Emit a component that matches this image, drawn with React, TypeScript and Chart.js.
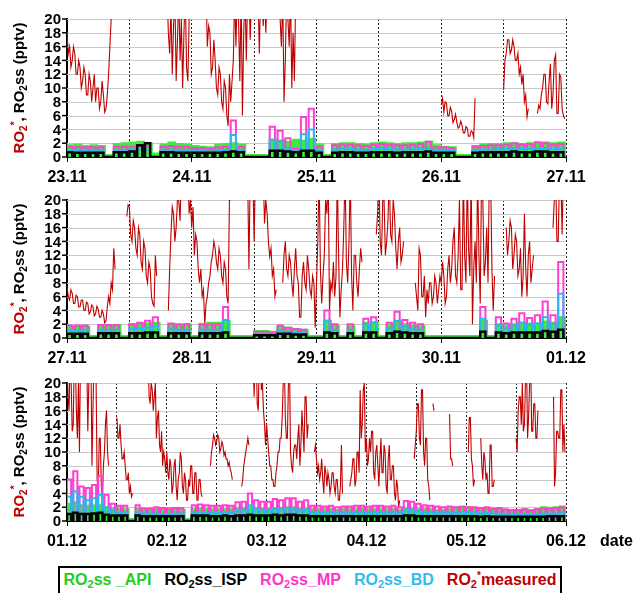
import React, { useEffect, useRef } from 'react';
import { Chart, registerables } from 'chart.js';
Chart.register(...registerables);

const N = null;

// ---------- tick labels ----------
const days1 = ['23.11', '24.11', '25.11', '26.11', '27.11'];
const days2 = ['27.11', '28.11', '29.11', '30.11', '01.12'];
const days3 = ['01.12', '02.12', '03.12', '04.12', '05.12', '06.12'];
const yTickValues = [0, 2, 4, 6, 8, 10, 12, 14, 16, 18, 20];

// ---------- RO2* measured, 15-min values per day (pptv; >20 runs off the axis) ----------
const m2311 = [18, 15, 16, 13, 14, 16, 15, 12, 12, 14, 13, 10, 11, 13, 12, 9, 9, 12, 11, 8,
  10, 12, 8, 10, 10, 7, 8, 11, 9, 6.5, 7, 9, 12, 16, 20, 24,
  24, N, N, N, N, N, N, N, N, N, N, N, N, N, N, N, N, N, N, N, N, N, N, N, N, N, N, N, N, N,
  N, N, N, N, N, N, N, N, N, N, 24,
  24, 18, 15, 22, 12, 19, 24, 11, 17, 24, 14, 20, 10, 18, 24, 13, 11, 20, 24];
const m2411 = [24, 24, 24, 24, 24, 24, 24, 24, 24, 24,
  20, 24, 16, 19, 18, 12, 13, 17, 14, 10, 9, 13, 12, 8, 7, 11, 10, 6, 4.5, 12,
  8, 11, 14, 24, 16, 24, 20, 11, 24, 6, 18, 24, 14, 24, 24, 17, 24, 24, 24, 24,
  22, 24, 15, 24, 24, 19, 24, 18, 24,
  24, 24, 24, 24, 24, 24, 24, 24, 24,
  20, 16, 24, 8, 14, 24, 20, 16, 24, 10, 18, 11, 24, 24, 24, 24,
  N, N, N, N, N, N, N, N, N, N, N, N];
const m2511: (number | null)[] = [];
const m2611 = [7.5, 8.5, 6.5, 8, 7.8, 6, 6.0, 7.2, 6.6, 5, 5.4, 6.2, 5.0, 4.2, 4.4, 5.2, 4.6, 3.5, 3.5, 4.4,
  4.2, 3, 3.0, 3.8, 3.6, 2.8, 8.5, N,
  N, N, N, N, N, N, N, N, N, N, N, N, N, N, N, N, N, N, N, N,
  9.7, 14, 15, 17, 17, 15, 15.5, 17, 16, 14, 14, 15, 12, 13, 10.5, 12, 8, 9, 5.8, 7,
  N, N, N, N, N, N,
  6.3, 7.5, 7, 9, 10, 12, 12, 8, 7.7, 11, 13.5, 7, 9, 14, 14.8, 6.3, 6.3, 12, 11.6, 7, 6, 5.5];
const m2711 = [7.5, 6, 5.5, 7, 6.5, 5, 5, 6.2, 6, 4.5, 4.5, 5.5, 5.5, 4, 4, 5.2, 5, 3.5, 3.8, 4.8,
  4.5, 3.2, 3.5, 4.6, 4.2, 3, 3, 4, 3.5, 2.2, 2.5, 4.5, 6, 5, 8, 7, 13, 10,
  N, N, N, N, N, N, N, N,
  17.6, 19.3, 19, 15, 14, 17, 16, 13, 12, 16, 15, 11, 10, 14, 13, 9, 8, 11, 10, 6, 5, 4.6, 12, 9,
  N, N, N, N, N, N, N, N,
  4, 10, 15, 19, 18, 14, 16, 20, 20, 17, 24, 24, 24, 24, 20, 24, 18, 20];
const m2811 = [16, 19, 12, 15, 14, 10, 8, 10, 6, 7, 2, 5, 6, 8, 9, 11, 12, 14, 13, 11,
  10, 13, 12, 9, 8, 11, 10, 6, 5, 20, 20, N,
  N, N, N, N, N, N, N, N, N, N,
  20, 24, 10, 24, 24, 24, 14, 24, 24, 24, 24, 24, 24, 24, 16.6, 20, 18, 14, 11.8, 13, 9, 10, 6, 7,
  N, N, N, N,
  8, 12, 14, 10, 9, 12, 11, 8, 6, 10, 13, 9, 8, 3, 3, 9, 11, 8, 7, 12, 10, 7, 6, 9, 8, 1.5];
const m2911 = [8, 14, 24, 10, 5, 9, 12, 20, 18, 24, 4, 8, 7, 11, 6, 9, 24, 12, 3, 7,
  10, 16, 24, 11, 8, 14, 24, 9, 4, 12, 12, 8, 6, 10, 13, 11,
  N, N, N, N, N, N, N, N, N, N,
  15, 18, 24, 14, 12, 20, 20, 12, 14, 17, 24, 15, 14, 20, 18, 13, 10, 14, 16, 11, 12, 14,
  N, N, N, N, N, N, N, N,
  8, 6, 4, 13, 12, 6, 6, 9, 3, 7, 5, 8, 8, 5, 6, 9, 8, 5, 7, 9];
const m3011 = [8, 11, 9, 5, 6, 10, 12, 8, 10, 14, 16, 9, 8, 12, 20, 7, 7, 24, 12, 8,
  24, 13, 9, 24, 2, 10, 14, 8, 24, 12, 5, 24, 20, 9, 11, 16, 8, 24, 24, 10, 4, 9,
  N, N, N, N, N, N, N, N,
  16, 12, 14, 17, 16, 10, 12, 15, 14, 9, 10, 13, 6, 9, 18, 10, 6, 12, 14, 8, 10, 12,
  N, N, N, N, N, N, N, N, N, N, N, N, N, N,
  16, 20, 24, 14, 14, 24, 24, 15, 24, 20];
const m0112 = [24, 18, 16, 24, 20, 13, 14, 24, 24, 16, 12, 20, 10, 24, 24, 24, 24, 24, 24, 24,
  13, 20, 24, 24, 8, 16, 24, 24, 20, 6, 4, 12, 12, 5, 3, 8, 10, 14, 16, 10, 8, N,
  N, N, N, N, N, N,
  15, 12, 12, 14, 11, 9, 9, 10, 8, 6, 6, 7, 4, 5, 3.5, 4,
  N, N, N, N, N, N, N, N, N, N, N, N,
  20, 24, 24, 18, 17, 20, 19, 16, 18, 20, 12, 15, 16, 11, 10, 13, 8, 10, 9, 7];
const m0212 = [10, 7, 6, 9, 8, 4, 5, 8, 9, 5, 3, 6, 7, 10, 9, 5, 4, 7, 6, 3,
  3, 6, 5, 8, 8, 4, 4, 7, 7, 3, 3, 6, 6, 4, 3.5, N,
  N, N, N, N, N, N,
  8, 10, 11, 12.5, 12, 11, 11.5, 12.5, 12, 10, 10.5, 11.5, 11, 9.5, 10, 9, 9, 8, 8.5, 7.5, 7, 6,
  N, N, N, N, N, N, N, N,
  5, 6, 8, 9, 10, 11, 12, 11,
  N, N,
  20, 24, 18, 24, 24, 17, 16, 24, 24, 19, 20, 16, 14, 11];
const m0312 = [14, 12, 10, 8, 8, 6, 6, 5, 5, 7, 8, 10, 10, 12, 12, 15, 20, 24, 15, 12,
  12, 20, 24, 10, 8, 7, 10, 11, 11, 9, 12, 14, 8, 11, 16, 13, 10, 18, 18, 12, 14, N,
  N, N, N, N,
  10, 11, 9, 7, 8, 6, 7, 9, 6, 4, 8, 7, 5, 7, 6, 4, 5, 7, 7, 5, 4, 6, 6, 3, 3, 5, 11, 4,
  N, N, N, N, N, N,
  5, 6, 7, 9, 9, 5, 6, 10, 10, 7, 19, 12, 14, 19, 20, 10];
const m0412 = [12, 8, 9, 12, 10, 13, 13, 7, 6, 10, 11, 8, 5, 9, 12, 7, 7, 11, 10, 5,
  4, 9, 11, 6, 6, 8, 8, 4, 3, 6, 5, 2, 3, N,
  N, N, N, N, N, N, N, N, N, N, N, N,
  9, 11, 13, 17, 17, 12, 11, 19, 19, 10, 8, 12, 12, 6, 5, 3,
  N, N,
  17, 16,
  N, N, N, N, N, N, N, N, N, N, N, N, N, N,
  15.5, 9, 9, 8,
  N, N, N, N, N, N, N, N, N, N, N, N];
const m0512 = [N, N,
  10, 15, 15, 9, 8, 5, 6, N,
  N, N, N, N,
  12, 8, 6, 10, 9, 6, 7, 4, 4, 11, 11, 5, 5, 6,
  N, N, N, N, N, N, N, N, N, N, N, N, N, N, N, N, N, N, N, N,
  12, 10, 16, 18, 18, 14, 20, 13, 14, 20, 24, 12, 15, 20, 24, 13, 13, 17, 17, 12, 12, 16,
  N, N, N, N, N, N, N, N, N, N, N, N, N, N,
  18, 5, 7, 13, 13, 12, 12, 19, 19, 10, 14, 10];

// ---------- modelled steady-state values, one per 1.5 h slot ----------
const mp1 = [1.5, 1.4, 1.4, 1.4, 1.4, 0, 1.5, 1.5, 1.5, 1.6, 1.5, 0, 1.5, 1.6, 1.5, 1.5,
  1.3, 1.3, 1.2, 1.4, 1.5, 5.3, 1.5, 0, 0, 0, 4.4, 3.8, 2.7, 1.2, 5.8, 7.0,
  1.5, 0, 1.7, 1.8, 1.8, 1.7, 1.6, 1.8, 1.9, 1.8, 1.7, 1.7, 1.8, 1.9, 2.2, 1.4,
  1.4, 1.3, 0, 0, 1.5, 1.6, 1.7, 1.7, 1.8, 2.0, 1.8, 1.9, 2.1, 2.0, 1.8, 1.9];
const bd1 = [1.0, 1.0, 0.9, 1.0, 1.0, 0, 1.0, 1.0, 1.1, 1.1, 1.0, 0, 1.0, 1.1, 1.0, 1.0,
  0.9, 0.9, 0.8, 1.0, 1.0, 3.2, 1.0, 0, 0, 0, 2.5, 2.2, 1.3, 1.0, 3.3, 4.0,
  1.0, 0, 1.1, 1.2, 1.2, 1.1, 1.0, 1.2, 1.2, 1.2, 1.1, 1.1, 1.2, 1.2, 1.3, 1.0,
  1.0, 0.9, 0, 0, 1.0, 1.1, 1.1, 1.2, 1.2, 1.3, 1.2, 1.2, 1.3, 1.3, 1.2, 1.2];
const isp1 = [0.7, 0.6, 0.6, 0.6, 0.6, 0, 0.7, 0.7, 0.8, 1.7, 2.0, 0, 0.7, 0.7, 0.6, 0.6,
  0.6, 0.6, 0.6, 0.6, 0.7, 0.8, 0.7, 0, 0, 0, 0.9, 0.9, 0.8, 0.7, 0.9, 0.9,
  0.6, 0, 0.6, 0.7, 0.7, 0.6, 0.6, 0.7, 0.7, 0.7, 0.6, 0.7, 0.7, 0.7, 0.8, 0.6,
  0.6, 0.6, 0, 0, 0.6, 0.7, 0.7, 0.7, 0.7, 0.8, 0.7, 0.7, 0.8, 0.8, 0.7, 0.7];
const api1 = [1.7, 1.8, 1.6, 1.7, 1.6, 0.3, 1.9, 2.0, 2.1, 2.2, 2.0, 0.5, 1.8, 2.1, 1.9, 1.8,
  1.6, 1.5, 1.4, 1.8, 1.9, 2.0, 1.8, 0.3, 0.3, 0.3, 2.5, 2.4, 2.2, 2.5, 2.4, 2.6,
  1.8, 0.3, 1.9, 2.0, 2.0, 1.9, 1.8, 2.0, 2.1, 2.0, 1.9, 2.0, 2.0, 2.1, 2.2, 1.7,
  1.5, 1.4, 0.3, 0.3, 1.6, 1.8, 1.9, 1.9, 2.0, 2.0, 1.9, 2.0, 2.1, 2.1, 2.0, 2.1];

const mp2 = [1.8, 1.8, 1.8, 0, 1.9, 1.9, 1.9, 0, 2.0, 2.2, 2.5, 3.0, 0, 2.1, 2.0, 2.0,
  0, 2.0, 2.0, 2.0, 4.5, 0, 0, 0, 0.9, 0.9, 0.8, 1.8, 1.5, 1.3, 1.2, 0,
  0, 4.0, 2.0, 0, 2.0, 0, 2.8, 3.0, 0, 2.2, 3.8, 2.6, 2.2, 2.0, 0, 0,
  0, 0, 0, 0, 0, 4.5, 0, 3.0, 2.1, 2.8, 3.6, 2.9, 3.3, 5.3, 3.3, 11.0];
const bd2 = [1.1, 1.1, 1.1, 0, 1.2, 1.2, 1.2, 0, 1.3, 1.4, 1.5, 1.7, 0, 1.3, 1.2, 1.2,
  0, 1.2, 1.2, 1.2, 2.6, 0, 0, 0, 0.6, 0.6, 0.5, 1.1, 0.9, 0.8, 0.7, 0,
  0, 2.5, 1.2, 0, 1.2, 0, 2.0, 2.2, 0, 1.4, 2.5, 1.7, 1.3, 1.2, 0, 0,
  0, 0, 0, 0, 0, 2.8, 0, 1.9, 1.4, 1.8, 2.2, 1.9, 2.1, 3.0, 2.1, 6.4];
const isp2 = [0.6, 0.6, 0.6, 0, 0.7, 0.7, 0.7, 0, 0.7, 0.7, 0.8, 0.8, 0, 0.7, 0.7, 0.7,
  0, 0.7, 0.7, 0.7, 0.8, 0, 0, 0, 0.4, 0.4, 0.4, 0.6, 0.6, 0.5, 0.5, 0,
  0, 0.8, 0.7, 0, 0.7, 0, 0.8, 0.8, 0, 0.7, 0.9, 0.8, 0.7, 0.7, 0, 0,
  0, 0, 0, 0, 0, 0.9, 0, 0.8, 0.7, 0.8, 0.8, 0.8, 0.8, 1.0, 0.9, 1.2];
const api2 = [1.6, 1.7, 1.6, 0.3, 1.8, 1.8, 1.9, 0.3, 2.0, 2.1, 2.1, 2.2, 0.3, 2.0, 1.9, 2.0,
  0.3, 2.0, 2.2, 2.2, 2.5, 0.3, 0.3, 0.3, 1.0, 1.0, 0.9, 1.6, 1.5, 1.3, 1.2, 0.3,
  0.3, 2.5, 1.8, 0.3, 1.7, 0.3, 2.2, 2.3, 0.3, 1.9, 2.4, 2.0, 1.8, 1.7, 0.3, 0.3,
  0.3, 0.3, 0.3, 0.3, 0.3, 2.5, 0.3, 2.0, 1.8, 2.0, 2.2, 2.1, 2.1, 2.4, 2.2, 3.0];

const mp3 = [6.0, 7.2, 5.0, 4.8, 5.2, 6.5, 3.8, 2.5, 2.2, 2.2, 0, 2.3, 1.8, 1.8, 2.0, 1.9,
  1.8, 1.9, 1.9, 0, 2.3, 2.4, 2.3, 2.2, 2.2, 2.3, 2.2, 2.7, 2.8, 4.0, 3.0, 2.8,
  2.8, 3.2, 3.0, 3.3, 3.3, 2.8, 3.0, 2.2, 2.2, 2.1, 2.2, 2.0, 2.1, 2.1, 2.2, 2.2,
  2.1, 2.2, 2.2, 2.1, 2.2, 2.0, 2.9, 2.8, 2.5, 2.3, 2.2, 2.1, 2.0, 2.1, 2.0, 2.0,
  2.0, 2.0, 1.9, 2.0, 1.8, 1.9, 1.7, 1.6, 1.6, 1.7, 1.5, 1.7, 1.8, 1.8, 1.9, 2.0];
const bd3 = [3.5, 4.3, 3.5, 3.0, 3.3, 3.8, 2.0, 1.5, 1.2, 1.2, 0, 1.3, 1.1, 1.1, 1.1, 1.0,
  1.0, 1.1, 1.1, 0, 1.2, 1.3, 1.2, 1.2, 1.2, 1.3, 1.2, 1.5, 1.6, 2.3, 1.7, 1.6,
  1.6, 1.8, 1.7, 1.9, 1.9, 1.6, 1.7, 1.3, 1.3, 1.2, 1.3, 1.2, 1.2, 1.2, 1.3, 1.3,
  1.2, 1.3, 1.3, 1.2, 1.3, 1.2, 1.7, 1.6, 1.4, 1.3, 1.3, 1.2, 1.2, 1.2, 1.2, 1.2,
  1.2, 1.2, 1.1, 1.2, 1.1, 1.1, 1.0, 1.0, 1.0, 1.0, 0.9, 1.0, 1.1, 1.1, 1.1, 1.2];
const isp3 = [1.0, 1.2, 1.0, 1.0, 1.1, 1.2, 0.9, 0.8, 0.8, 0.8, 0, 0.8, 0.7, 0.7, 0.7, 0.7,
  0.7, 0.7, 0.7, 0, 0.8, 0.8, 0.8, 0.7, 0.7, 0.8, 0.7, 0.8, 0.8, 0.9, 0.8, 0.8,
  0.8, 0.9, 0.8, 0.9, 0.9, 0.8, 0.8, 0.7, 0.7, 0.7, 0.7, 0.7, 0.7, 0.7, 0.7, 0.7,
  0.7, 0.7, 0.7, 0.7, 0.7, 0.7, 0.8, 0.8, 0.7, 0.7, 0.7, 0.7, 0.7, 0.7, 0.7, 0.7,
  0.7, 0.7, 0.6, 0.7, 0.6, 0.6, 0.6, 0.6, 0.6, 0.6, 0.6, 0.6, 0.6, 0.7, 0.7, 0.7];
const api3 = [2.5, 2.7, 2.3, 2.2, 2.3, 2.3, 2.0, 1.8, 1.8, 1.7, 0.3, 1.8, 1.6, 1.6, 1.7, 1.6,
  1.6, 1.6, 1.6, 0.3, 1.7, 1.8, 1.7, 1.7, 1.7, 1.7, 1.7, 1.8, 1.9, 2.0, 1.9, 1.8,
  1.8, 1.9, 1.9, 2.0, 2.0, 1.8, 1.8, 1.7, 1.7, 1.7, 1.7, 1.6, 1.7, 1.7, 1.7, 1.8,
  1.7, 1.7, 1.7, 1.7, 1.7, 1.6, 1.8, 1.8, 1.7, 1.7, 1.7, 1.6, 1.6, 1.7, 2.0, 2.1,
  2.0, 1.9, 1.8, 1.8, 1.7, 1.7, 1.6, 1.6, 1.6, 1.7, 1.6, 1.7, 2.0, 1.9, 2.0, 2.1];

// ---------- styling ----------
const RED = '#C00000';
const GREEN = '#3DEB3D';
const MAGENTA = '#FF3FD2';
const BLUE = '#2CB6F0';
const FONT = 'Arial, "Liberation Sans", sans-serif';
const SLOT_HOURS = 1.5;
const MEAS_STEP = 0.25;

function pulseSeries(values: number[], width: number) {
  const pts: { x: number; y: number }[] = [];
  values.forEach((v, k) => {
    const t = k * SLOT_HOURS;
    pts.push({ x: t, y: 0 }, { x: t, y: v }, { x: t + width, y: v }, { x: t + width, y: 0 });
  });
  return pts;
}

function measuredSeries(daysData: (number | null)[][]) {
  const pts: { x: number; y: number | null }[] = [];
  daysData.forEach((day, d) => {
    day.forEach((v, i) => pts.push({ x: d * 24 + i * MEAS_STEP, y: v }));
  });
  return pts;
}

// y gridlines, tick marks and labels, every 2 pptv, placed through the y scale
const yAxisPlugin = {
  id: 'yAxisTicks',
  beforeDatasetsDraw(chart: any) {
    const { ctx, chartArea, scales } = chart;
    ctx.save();
    ctx.strokeStyle = '#c8c8c8';
    ctx.lineWidth = 1;
    yTickValues.forEach((v) => {
      if (v === 0) return;
      const y = Math.round(scales.y.getPixelForValue(v)) + 0.5;
      ctx.beginPath(); ctx.moveTo(chartArea.left, y); ctx.lineTo(chartArea.right, y); ctx.stroke();
    });
    ctx.restore();
  },
  afterDraw(chart: any) {
    const { ctx, chartArea, scales } = chart;
    ctx.save();
    ctx.strokeStyle = '#000';
    ctx.lineWidth = 1.5;
    ctx.fillStyle = '#000';
    ctx.font = `bold 15px ${FONT}`;
    ctx.textAlign = 'right';
    ctx.textBaseline = 'middle';
    yTickValues.forEach((v) => {
      const y = scales.y.getPixelForValue(v);
      ctx.beginPath(); ctx.moveTo(chartArea.left - 5, y); ctx.lineTo(chartArea.left, y); ctx.stroke();
      ctx.fillText(String(v), chartArea.left - 6, y + 1);
    });
    ctx.restore();
  },
};

const yTitlePlugin = {
  id: 'yTitle',
  afterDraw(chart: any) {
    const { ctx, chartArea } = chart;
    const segs = [
      { t: 'RO', c: RED, s: 0 }, { t: '2', c: RED, s: 1 }, { t: '*', c: RED, s: -1 },
      { t: ', RO', c: '#000', s: 0 }, { t: '2', c: '#000', s: 1 }, { t: 'ss (pptv)', c: '#000', s: 0 },
    ];
    const big = `bold 15px ${FONT}`;
    const small = `bold 10px ${FONT}`;
    ctx.save();
    ctx.translate(20, (chartArea.top + chartArea.bottom) / 2);
    ctx.rotate(-Math.PI / 2);
    ctx.textBaseline = 'middle';
    ctx.textAlign = 'left';
    let total = 0;
    segs.forEach((s) => { ctx.font = s.s ? small : big; total += ctx.measureText(s.t).width; });
    let x = -total / 2;
    segs.forEach((s) => {
      ctx.font = s.s ? small : big;
      ctx.fillStyle = s.c;
      ctx.fillText(s.t, x, s.s === 1 ? 4 : s.s === -1 ? -5 : 0);
      x += ctx.measureText(s.t).width;
    });
    ctx.restore();
  },
};

type PanelProps = {
  top: number; labels: string[]; measured: (number | null)[][];
  api: number[]; isp: number[]; mp: number[]; bd: number[];
};

function Panel({ top, labels, measured, api, isp, mp, bd }: PanelProps) {
  const ref = useRef<HTMLCanvasElement | null>(null);
  useEffect(() => {
    if (!ref.current) return;
    const hours = (labels.length - 1) * 24;
    const chart = new Chart(ref.current, {
      type: 'line',
      data: {
        datasets: [
          { label: 'RO2ss_ISP', data: pulseSeries(isp, 1.0), borderColor: '#000', borderWidth: 2.5, order: 1 },
          { label: 'RO2ss_BD', data: pulseSeries(bd, 1.0), borderColor: BLUE, borderWidth: 2, order: 2 },
          { label: 'RO2ss_MP', data: pulseSeries(mp, 1.0), borderColor: MAGENTA, borderWidth: 2, order: 3 },
          { label: 'RO2ss_API', data: pulseSeries(api, 1.3), borderColor: GREEN, backgroundColor: GREEN, fill: 'origin', borderWidth: 2, order: 4 },
          { label: 'RO2*measured', data: measuredSeries(measured), borderColor: RED, borderWidth: 1.1, order: 5 },
        ] as any,
      },
      options: {
        animation: false,
        responsive: false,
        devicePixelRatio: 1,
        parsing: false as any,
        layout: { padding: { top: 19, right: 70, left: 0, bottom: 0 } },
        elements: { point: { radius: 0 }, line: { tension: 0 } },
        plugins: { legend: { display: false }, tooltip: { enabled: false } },
        scales: {
          x: {
            type: 'linear', min: 0, max: hours,
            afterFit: (s: any) => { s.height = 28; },
            ticks: {
              stepSize: 12, autoSkip: false, maxRotation: 0, padding: 6, color: '#000',
              font: { family: FONT, size: 16, weight: 'bold' },
              callback: (v: any) => (Number(v) % 24 === 0 ? labels[Number(v) / 24] : ''),
            },
            grid: {
              color: '#222', lineWidth: 1, tickLength: 5,
              tickColor: (c: any) => (c.tick && c.tick.value % 24 === 0 ? '#000' : 'rgba(0,0,0,0)'),
            },
            border: { color: '#000', width: 2, dash: [2, 2] },
          },
          y: {
            min: 0, max: 20,
            afterFit: (s: any) => { s.width = 67; },
            ticks: { display: false },
            grid: { display: false },
            border: { color: '#000', width: 2 },
          },
        },
      } as any,
      plugins: [yAxisPlugin, yTitlePlugin],
    });
    return () => chart.destroy();
  }, []);
  return (
    <canvas ref={ref} width={636} height={185}
      style={{ position: 'absolute', left: 0, top, width: 636, height: 185 }} />
  );
}

function LegendItem({ color, suffix, star }: { color: string; suffix: string; star?: boolean }) {
  return (
    <span style={{ color, whiteSpace: 'nowrap' }}>
      RO<sub style={{ fontSize: 11, verticalAlign: -3 }}>2</sub>
      {star ? <sup style={{ fontSize: 10, verticalAlign: 6 }}>*</sup> : null}
      {suffix}
    </span>
  );
}

export default function App() {
  return (
    <div style={{ position: 'absolute', left: 0, top: 0, width: 636, height: 593, background: '#fff', overflow: 'hidden' }}>
      <Panel top={0} labels={days1} measured={[m2311, m2411, m2511, m2611]} api={api1} isp={isp1} mp={mp1} bd={bd1} />
      <Panel top={181} labels={days2} measured={[m2711, m2811, m2911, m3011]} api={api2} isp={isp2} mp={mp2} bd={bd2} />
      <Panel top={364} labels={days3} measured={[m0112, m0212, m0312, m0412, m0512]} api={api3} isp={isp3} mp={mp3} bd={bd3} />
      <div style={{ position: 'absolute', left: 600, top: 532, font: `bold 16px ${FONT}`, color: '#000' }}>date</div>
      <div style={{
        position: 'absolute', left: 58, top: 566, width: 504, height: 30, border: '2px solid #000',
        boxSizing: 'border-box', display: 'flex', justifyContent: 'center', alignItems: 'center', gap: 13,
        font: `bold 16px ${FONT}`, paddingBottom: 2,
      }}>
        <LegendItem color="#22CC22" suffix="ss _API" />
        <LegendItem color="#000" suffix="ss_ISP" />
        <LegendItem color="#FF33CC" suffix="ss_MP" />
        <LegendItem color="#33BBEE" suffix="ss_BD" />
        <LegendItem color={RED} suffix="measured" star />
      </div>
    </div>
  );
}
